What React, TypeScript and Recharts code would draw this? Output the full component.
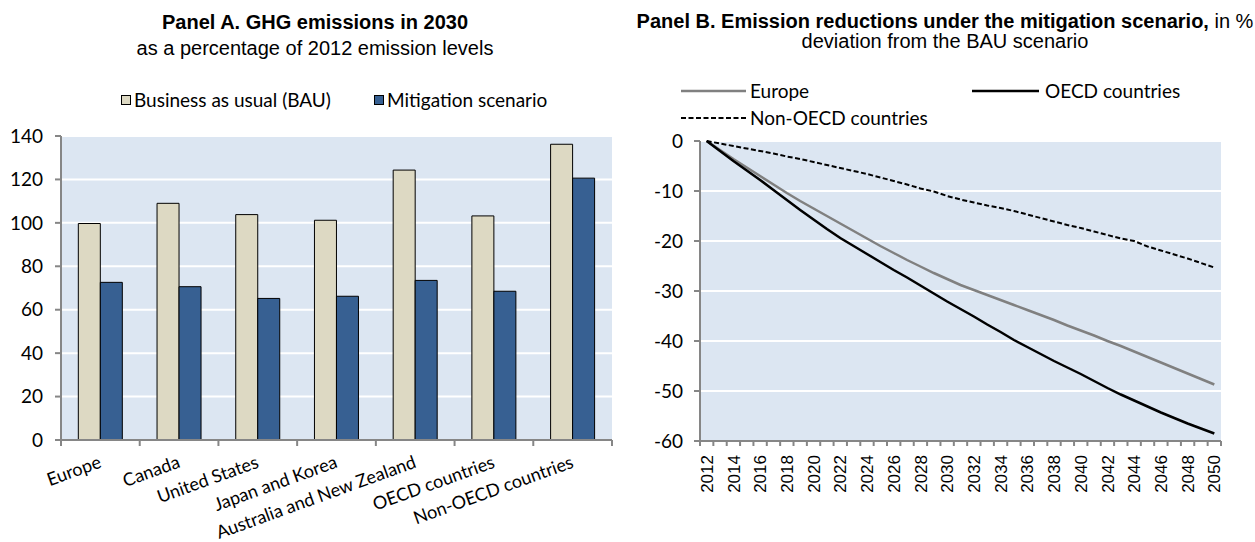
import React from 'react';
import { BarChart, Bar, LineChart, Line, XAxis, YAxis, CartesianGrid } from 'recharts';

// Panel A data
const countries = ['Europe', 'Canada', 'United States', 'Japan and Korea', 'Australia and New Zealand', 'OECD countries', 'Non-OECD countries'];
const bauValues = [99.7, 109.0, 103.8, 101.2, 124.3, 103.2, 136.2];
const mitigationValues = [72.6, 70.6, 65.2, 66.2, 73.5, 68.5, 120.6];
const ticksA = [0, 20, 40, 60, 80, 100, 120, 140];

// Panel B data
const years = ['2012', '2013', '2014', '2015', '2016', '2017', '2018', '2019', '2020', '2021', '2022', '2023', '2024', '2025', '2026', '2027', '2028', '2029', '2030', '2031', '2032', '2033', '2034', '2035', '2036', '2037', '2038', '2039', '2040', '2041', '2042', '2043', '2044', '2045', '2046', '2047', '2048', '2049', '2050'];
const europe = [0, -1.8, -3.6, -5.3, -7.0, -8.7, -10.4, -12.0, -13.5, -15.0, -16.5, -18.0, -19.5, -21.0, -22.4, -23.8, -25.1, -26.4, -27.6, -28.8, -29.8, -30.8, -31.8, -32.8, -33.8, -34.8, -35.8, -36.9, -37.9, -38.9, -40.0, -41.0, -42.1, -43.2, -44.3, -45.4, -46.5, -47.6, -48.7];
const oecd = [0, -2.0, -4.0, -5.9, -7.8, -9.8, -11.8, -13.8, -15.7, -17.6, -19.4, -21.0, -22.6, -24.2, -25.8, -27.3, -28.9, -30.5, -32.1, -33.6, -35.1, -36.7, -38.2, -39.8, -41.2, -42.6, -44.0, -45.3, -46.6, -48.0, -49.4, -50.7, -51.9, -53.1, -54.3, -55.4, -56.5, -57.5, -58.5];
const nonOecd = [0, -0.5, -1.0, -1.5, -2.0, -2.5, -3.1, -3.6, -4.2, -4.8, -5.4, -6.0, -6.6, -7.3, -8.0, -8.7, -9.5, -10.1, -11.0, -11.7, -12.3, -12.9, -13.4, -14.0, -14.7, -15.4, -16.1, -16.8, -17.4, -18.1, -18.8, -19.5, -20.0, -21.1, -21.9, -22.7, -23.5, -24.4, -25.3];
const ticksB = [0, -10, -20, -30, -40, -50, -60];

const barData = countries.map((name, i) => ({ name, bau: bauValues[i], mit: mitigationValues[i] }));
const lineData = years.map((year, i) => ({ year, europe: europe[i], oecd: oecd[i], nonOecd: nonOecd[i] }));

const CAL = 'Lato, "Open Sans", sans-serif';
const ARIAL = '"Liberation Sans", Arial, sans-serif';
const AXIS = '#868686';
const PLOT_BG = '#DCE6F2';
const BAU_COLOR = '#DDD9C3';
const MIT_COLOR = '#376092';

// plot boxes (svg coordinates of each chart)
const A = { w: 620, h: 542, left: 61, right: 612, top: 136, bottom: 440 };
const B = { x: 620, w: 635, h: 542, left: 80, right: 601, top: 141, bottom: 441 };

function CountryTick(props: any) {
  const { x, index, payload } = props;
  const half = (A.right - A.left) / countries.length / 2;
  const y0 = A.bottom;
  const lx = x + 2;
  const ly = 467;
  return (
    <g>
      <line x1={x - half} x2={x - half} y1={y0} y2={y0 + 6} stroke={AXIS} strokeWidth={2} />
      {index === countries.length - 1 && (
        <line x1={x + half} x2={x + half} y1={y0} y2={y0 + 6} stroke={AXIS} strokeWidth={2} />
      )}
      <text x={lx} y={ly} transform={`rotate(-20 ${lx} ${ly})`} textAnchor="end" fontFamily={CAL} fontSize={18} fill="#000">
        {payload.value}
      </text>
    </g>
  );
}

function YearTick(props: any) {
  const { x, index, payload } = props;
  const half = (B.right - B.left) / years.length / 2;
  const y0 = B.bottom;
  const ly = 455;
  return (
    <g>
      <line x1={x - half} x2={x - half} y1={y0} y2={y0 + 5} stroke={AXIS} strokeWidth={2} />
      {index === years.length - 1 && (
        <line x1={x + half} x2={x + half} y1={y0} y2={y0 + 5} stroke={AXIS} strokeWidth={2} />
      )}
      {index % 2 === 0 && (
        <text x={x} y={ly} dy="0.36em" transform={`rotate(-90 ${x} ${ly})`} textAnchor="end" fontFamily={ARIAL} fontSize={17} fill="#000">
          {payload.value}
        </text>
      )}
    </g>
  );
}

function Overlay() {
  return (
    <svg width={1255} height={542} style={{ position: 'absolute', left: 0, top: 0, pointerEvents: 'none' }}>
      <text x={315} y={29} textAnchor="middle" fontFamily={ARIAL} fontSize={20} fontWeight="bold">Panel A. GHG emissions in 2030</text>
      <text x={315} y={55} textAnchor="middle" fontFamily={ARIAL} fontSize={20}>as a percentage of 2012 emission levels</text>
      <text x={945} y={28} textAnchor="middle" fontFamily={ARIAL} fontSize={20} style={{ whiteSpace: 'pre' }}>
        <tspan fontWeight="bold">Panel B. Emission reductions under the mitigation scenario,</tspan>
        <tspan>{' in %'}</tspan>
      </text>
      <text x={945} y={48} textAnchor="middle" fontFamily={ARIAL} fontSize={20}>deviation from the BAU scenario</text>

      <rect x={121.5} y={95.5} width={9} height={9} fill={BAU_COLOR} stroke="#000" />
      <text x={134} y={107} fontFamily={CAL} fontSize={19}>Business as usual (BAU)</text>
      <rect x={374.5} y={95.5} width={9} height={9} fill={MIT_COLOR} stroke="#000" />
      <text x={387} y={107} fontFamily={CAL} fontSize={19}>Mitigation scenario</text>

      <line x1={681} x2={746} y1={91} y2={91} stroke="#808080" strokeWidth={2.5} />
      <text x={750} y={98} fontFamily={CAL} fontSize={19}>Europe</text>
      <line x1={972} x2={1039} y1={91} y2={91} stroke="#000" strokeWidth={2.5} />
      <text x={1045} y={98} fontFamily={CAL} fontSize={19}>OECD countries</text>
      <line x1={681} x2={746} y1={118} y2={118} stroke="#000" strokeWidth={2} strokeDasharray="5 2.5" />
      <text x={750} y={125} fontFamily={CAL} fontSize={19}>Non-OECD countries</text>
    </svg>
  );
}

export default function App() {
  return (
    <div style={{ position: 'absolute', left: 0, top: 0, width: 1255, height: 542, background: '#fff' }}>
      <div style={{ position: 'absolute', left: 0, top: 0 }}>
        <BarChart
          width={A.w}
          height={A.h}
          data={barData}
          margin={{ top: A.top, right: A.w - A.right, bottom: 0, left: 0 }}
          barCategoryGap="22%"
          barGap={0}
        >
          <CartesianGrid vertical={false} stroke="#fff" strokeWidth={2} fill={PLOT_BG} fillOpacity={1} />
          <YAxis
            width={A.left}
            domain={[0, 140]}
            ticks={ticksA}
            interval={0}
            tickSize={6}
            tickMargin={12}
            axisLine={{ stroke: AXIS, strokeWidth: 2 }}
            tickLine={{ stroke: AXIS, strokeWidth: 2 }}
            tick={{ fill: '#000', fontSize: 19, fontFamily: CAL }}
          />
          <XAxis
            dataKey="name"
            interval={0}
            tickLine={false}
            axisLine={{ stroke: AXIS, strokeWidth: 2 }}
            tick={<CountryTick />}
            height={A.h - A.bottom}
          />
          <Bar dataKey="bau" fill={BAU_COLOR} stroke="#000" strokeWidth={1} isAnimationActive={false} />
          <Bar dataKey="mit" fill={MIT_COLOR} stroke="#000" strokeWidth={1} isAnimationActive={false} />
        </BarChart>
      </div>
      <div style={{ position: 'absolute', left: B.x, top: 0 }}>
        <LineChart
          width={B.w}
          height={B.h}
          data={lineData}
          margin={{ top: B.top, right: B.w - B.right, bottom: 0, left: 0 }}
        >
          <CartesianGrid vertical={false} stroke="#fff" strokeWidth={2} fill={PLOT_BG} fillOpacity={1} />
          <YAxis
            width={B.left}
            domain={[-60, 0]}
            ticks={ticksB}
            interval={0}
            tickSize={6}
            tickMargin={11}
            axisLine={{ stroke: AXIS, strokeWidth: 2 }}
            tickLine={{ stroke: AXIS, strokeWidth: 2 }}
            tick={{ fill: '#000', fontSize: 19, fontFamily: CAL }}
          />
          <XAxis
            dataKey="year"
            interval={0}
            tickLine={false}
            padding={{ left: (B.right - B.left) / years.length / 2, right: (B.right - B.left) / years.length / 2 }}
            axisLine={{ stroke: AXIS, strokeWidth: 2 }}
            tick={<YearTick />}
            height={B.h - B.bottom}
          />
          <Line dataKey="europe" stroke="#808080" strokeWidth={2.5} dot={false} isAnimationActive={false} />
          <Line dataKey="oecd" stroke="#000" strokeWidth={2.5} dot={false} isAnimationActive={false} />
          <Line dataKey="nonOecd" stroke="#000" strokeWidth={2} strokeDasharray="5 2.5" dot={false} isAnimationActive={false} />
        </LineChart>
      </div>
      <Overlay />
    </div>
  );
}
